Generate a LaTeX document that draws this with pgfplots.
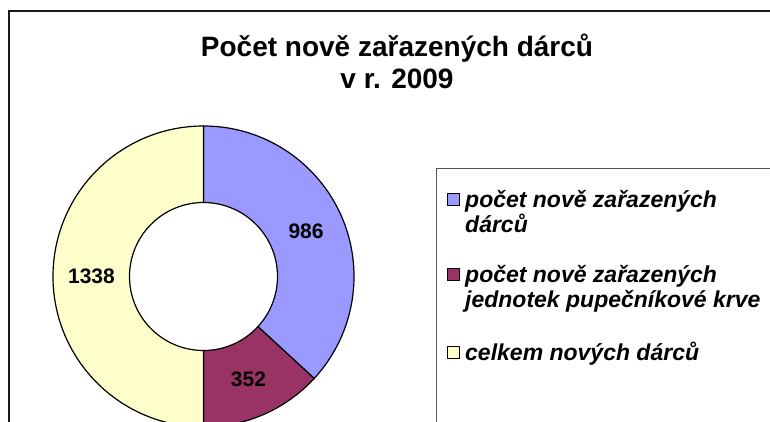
\documentclass[border=0pt]{standalone}
\usepackage{pgfplots}
\pgfplotsset{compat=1.18}
\usepackage{pgfplotstable}
\usepackage{fontspec}
\setmainfont{Liberation Sans}
\definecolor{cA}{HTML}{9999FF}
\definecolor{cB}{HTML}{993366}
\definecolor{cC}{HTML}{FFFFCC}
\definecolor{frame}{HTML}{1A1A1A}
\definecolor{lframe}{HTML}{555555}

\pgfplotstableread{
value color
986 cA
352 cB
1338 cC
}\donutdata

\begin{document}
\begin{tikzpicture}
\begin{axis}[hide axis, scale only axis, x=1bp, y=1bp,
  xmin=0, xmax=770, ymin=0, ymax=421, clip=true]
\coordinate (LL) at (axis cs:0,0);
\coordinate (UR) at (axis cs:770,421);
\pgfplotsextra{
  \pgfplotstablegetrowsof{\donutdata}\let\nrows\pgfplotsretval
  \pgfmathtruncatemacro\lastrow{\nrows-1}
  \xdef\total{0}
  \foreach \i in {0,...,\lastrow}{
    \pgfplotstablegetelem{\i}{value}\of\donutdata
    \pgfmathsetmacro\tmpsum{\total+\pgfplotsretval}\xdef\total{\tmpsum}
  }
  \xdef\cum{0}
  \foreach \i in {0,...,\lastrow}{
    \pgfplotstablegetelem{\i}{value}\of\donutdata \let\segval\pgfplotsretval
    \pgfplotstablegetelem{\i}{color}\of\donutdata \let\segcol\pgfplotsretval
    \pgfmathsetmacro\sa{90-\cum/\total*360}
    \pgfmathsetmacro\sb{90-(\cum+\segval)/\total*360}
    \pgfmathsetmacro\sm{(\sa+\sb)/2}
    \filldraw[fill=\segcol, draw=black, line width=1.2bp]
      (axis cs:203.5,144.5) ++(\sa:150.5bp)
      arc[start angle=\sa, end angle=\sb, radius=150.5bp]
      -- ++(\sb+180:76.5bp)
      arc[start angle=\sb, end angle=\sa, radius=74bp] -- cycle;
    \path (axis cs:203.5,144.5) ++(\sm:112bp)
      node[font=\fontsize{21bp}{25bp}\selectfont\bfseries] {\segval};
    \pgfmathsetmacro\tmpcum{\cum+\segval}\xdef\cum{\tmpcum}
  }
  % frame and legend box
  \draw[frame, line width=2bp] (axis cs:9,-30) rectangle (axis cs:800,410);
  \draw[lframe, line width=1bp] (axis cs:436,-30) rectangle (axis cs:800,253);
  % title
  \node[anchor=base, font=\fontsize{28bp}{32bp}\selectfont\bfseries]
    at (axis cs:397,365) {Počet nově zařazených dárců};
  \node[anchor=base, font=\fontsize{28bp}{32bp}\selectfont\bfseries]
    at (axis cs:397,333) {v r. 2009};
  % legend
  \filldraw[fill=cA, draw=black, line width=0.8bp] (axis cs:447,216) rectangle (axis cs:459,228);
  \filldraw[fill=cB, draw=black, line width=0.8bp] (axis cs:447,141) rectangle (axis cs:459,153);
  \filldraw[fill=cC, draw=black, line width=0.8bp] (axis cs:447,63) rectangle (axis cs:459,75);
  \begin{scope}[every node/.style={anchor=base west, inner sep=0pt,
      font=\fontsize{23bp}{26bp}\selectfont\bfseries\itshape}]
    \node at (axis cs:465,214) {počet nově zařazených};
    \node at (axis cs:465,189) {dárců};
    \node at (axis cs:465,139) {počet nově zařazených};
    \node at (axis cs:465,114) {jednotek pupečníkové krve};
    \node at (axis cs:465,61) {celkem nových dárců};
  \end{scope}
}
\end{axis}
\pgfresetboundingbox
\useasboundingbox (LL) rectangle (UR);
\end{tikzpicture}
\end{document}
